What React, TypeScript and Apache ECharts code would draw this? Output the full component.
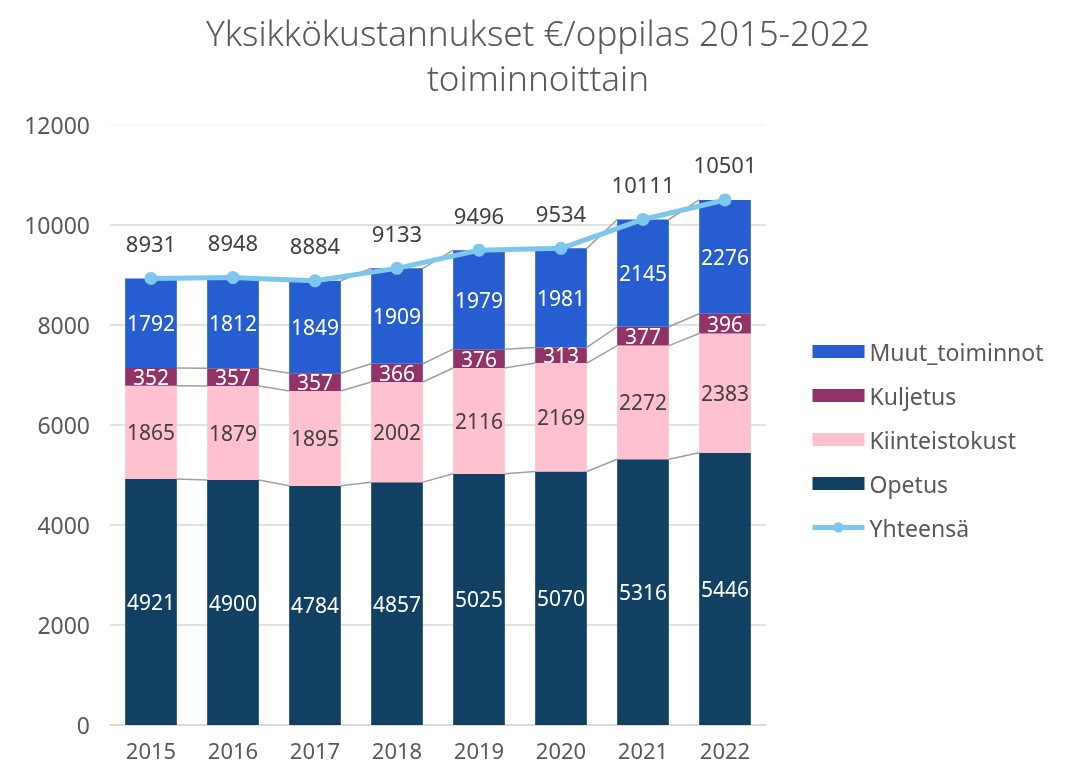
import React, { useEffect, useRef } from "react";
import * as echarts from "echarts";

const years = ["2015", "2016", "2017", "2018", "2019", "2020", "2021", "2022"];
const opetus = [4921, 4900, 4784, 4857, 5025, 5070, 5316, 5446];
const kiinteisto = [1865, 1879, 1895, 2002, 2116, 2169, 2272, 2383];
const kuljetus = [352, 357, 357, 366, 376, 313, 377, 396];
const muut = [1792, 1812, 1849, 1909, 1979, 1981, 2145, 2276];
const yhteensa = [8931, 8948, 8884, 9133, 9496, 9534, 10111, 10501];

const C_OPETUS = "#124062";
const C_KIINT = "#FFC0CF";
const C_KULJ = "#913366";
const C_MUUT = "#265DD1";
const C_TOTAL = "#7DC6EE";
const FONT = "Noto Sans";

export default function App() {
  const ref = useRef<HTMLDivElement>(null);
  useEffect(() => {
    if (!ref.current) return;
    const chart = echarts.init(ref.current, null, { renderer: "svg" });
    const stacks = [opetus, kiinteisto, kuljetus, muut];
    const cum: number[][] = [];
    let acc = years.map(() => 0);
    stacks.forEach((s) => {
      acc = acc.map((v, i) => v + s[i]);
      cum.push(acc.slice());
    });
    const connData = years.slice(0, -1).map((_, i) => {
      const row: number[] = [i];
      cum.forEach((c) => {
        row.push(c[i], c[i + 1]);
      });
      return row;
    });
    const barLabel = (color: string) => ({
      show: true,
      position: "inside" as const,
      color,
      fontSize: 21,
      fontFamily: FONT,
    });
    const BW = 0.63;
    chart.setOption({
      animation: false,
      title: {
        text: "Yksikkökustannukset €/oppilas 2015-2022\ntoiminnoittain",
        left: "center",
        top: 5,
        textStyle: {
          fontFamily: FONT,
          fontSize: 35,
          fontWeight: 300,
          color: "#595959",
          lineHeight: 45,
        },
      },
      legend: {
        orient: "vertical",
        left: 805,
        top: 335,
        itemWidth: 52,
        itemHeight: 13,
        itemGap: 21,
        lineStyle: { width: 5 },
        textStyle: { fontFamily: FONT, fontSize: 23, color: "#595959", padding: [0, 0, 0, 0] },
        data: [
          { name: "Muut_toiminnot", icon: "rect" },
          { name: "Kuljetus", icon: "rect" },
          { name: "Kiinteistokust", icon: "rect" },
          { name: "Opetus", icon: "rect" },
          { name: "Yhteensä" },
        ],
      },
      grid: { left: 110, right: 310, top: 125, bottom: 40, containLabel: false },
      xAxis: {
        type: "category",
        data: years,
        axisTick: { show: false },
        axisLine: { lineStyle: { color: "#D9D9D9", width: 1.5 } },
        axisLabel: { fontFamily: FONT, fontSize: 22, color: "#595959", margin: 14 },
      },
      yAxis: {
        type: "value",
        min: 0,
        max: 12000,
        interval: 2000,
        axisLabel: {
          fontFamily: FONT,
          fontSize: 23,
          color: "#595959",
          margin: 20,
          formatter: (v: number) => String(v),
        },
        splitLine: {
          lineStyle: {
            color: ["#D9D9D9", "#D9D9D9", "#D9D9D9", "#D9D9D9", "#D9D9D9", "#D9D9D9", "#F4F4F4"],
            width: 1.5,
          },
        },
      },
      series: [
        {
          type: "custom",
          name: "conn",
          silent: true,
          z: 1,
          data: connData,
          encode: { x: 0, y: [1, 2, 3, 4, 5, 6, 7, 8] },
          renderItem: (params: any, api: any) => {
            const i = api.value(0);
            const band = api.size([1, 0])[0];
            const half = (band * BW) / 2;
            const children: any[] = [];
            for (let k = 0; k < 4; k++) {
              const a = api.coord([i, api.value(1 + 2 * k)]);
              const b = api.coord([i + 1, api.value(2 + 2 * k)]);
              children.push({
                type: "line",
                shape: { x1: a[0] + half, y1: a[1], x2: b[0] - half, y2: b[1] },
                style: { stroke: "#A0A0A0", lineWidth: 1.5 },
              });
            }
            return { type: "group", children };
          },
        },
        {
          name: "Opetus",
          type: "bar",
          stack: "s",
          barWidth: "63%",
          data: opetus,
          itemStyle: { color: C_OPETUS },
          label: barLabel("#FFFFFF"),
          z: 2,
        },
        {
          name: "Kiinteistokust",
          type: "bar",
          stack: "s",
          data: kiinteisto,
          itemStyle: { color: C_KIINT },
          label: barLabel("#404040"),
          z: 2,
        },
        {
          name: "Kuljetus",
          type: "bar",
          stack: "s",
          data: kuljetus,
          itemStyle: { color: C_KULJ },
          label: barLabel("#FFFFFF"),
          z: 2,
        },
        {
          name: "Muut_toiminnot",
          type: "bar",
          stack: "s",
          data: muut,
          itemStyle: { color: C_MUUT },
          label: barLabel("#FFFFFF"),
          z: 2,
        },
        {
          name: "Yhteensä",
          type: "line",
          data: yhteensa,
          symbol: "circle",
          symbolSize: 13,
          lineStyle: { color: C_TOTAL, width: 5 },
          itemStyle: { color: C_TOTAL },
          label: {
            show: true,
            position: "top",
            distance: 18,
            fontFamily: FONT,
            fontSize: 22,
            color: "#404040",
          },
          z: 5,
        },
      ],
    });
    return () => chart.dispose();
  }, []);
  return (
    <div
      ref={ref}
      style={{ position: "fixed", left: 0, top: 0, width: 1076, height: 765 }}
    />
  );
}
